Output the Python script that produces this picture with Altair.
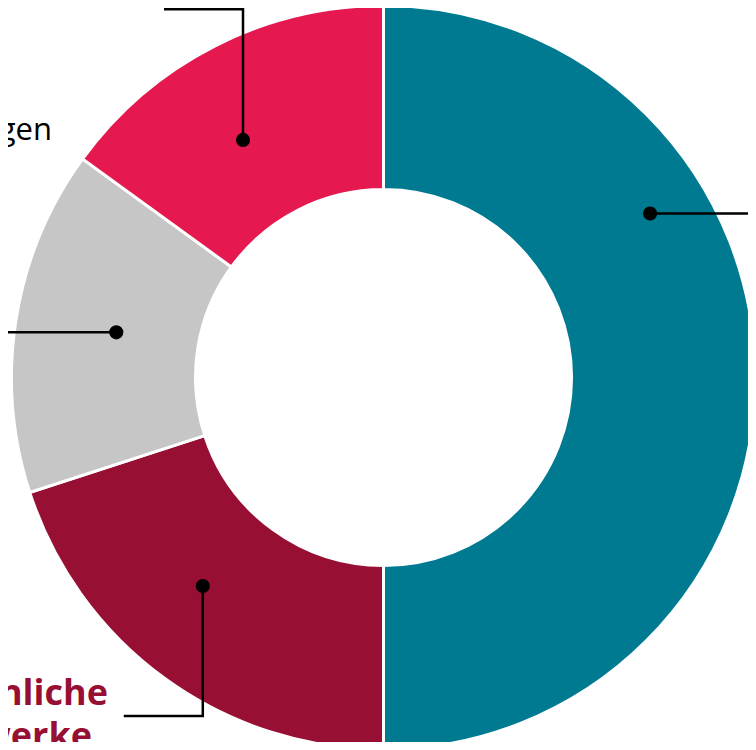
import math
import altair as alt
import pandas as pd

# ---- data ----
categories = ["Eigenmittel", "Persönliche Netzwerke", "Stiftungen", "Öffentliche Zuwendungen"]
values = [50, 20, 15, 15]
colors = ["#007A91", "#971034", "#C6C6C6", "#E5194F"]
label_lines = [[], ["Persönliche", "Netzwerke"], [], ["Zuwendungen"]]
label_colors = ["#000000", "#971034", "#000000", "#000000"]
label_weights = ["normal", "bold", "normal", "normal"]

# ---- layout ----
W, H = 740, 734
CX, CY = 375.5, 369.5
R_OUT, R_IN = 372, 188

total = sum(values)
df = pd.DataFrame({"cat": categories, "value": values, "order": range(len(values))})

arcs = alt.Chart(df).mark_arc(
    outerRadius=R_OUT, innerRadius=R_IN, stroke="white", strokeWidth=3
).encode(
    theta=alt.Theta("value:Q", stack=True),
    order=alt.Order("order:Q"),
    color=alt.Color("cat:N", scale=alt.Scale(domain=categories, range=colors), legend=None),
    x=alt.value(CX),
    y=alt.value(CY),
)

# dot anchors: mid-angle of each slice, with small layout adjustments
angle_shift = [-31.6, 4.9, 0.6, -3.6]
radius = [313, 276, 271, 276]
dots, lines = [], []
cum = 0
for i, v in enumerate(values):
    mid = (cum + v / 2) / total * 360 + angle_shift[i]
    cum += v
    a = math.radians(mid)
    px = CX + radius[i] * math.sin(a)
    py = CY - radius[i] * math.cos(a)
    dots.append({"cat": categories[i], "x": px, "y": py})
    if i == 0:
        pts = [(px, py), (W + 20, py)]
    elif i == 1:
        pts = [(px, py), (px, py + 130), (px - 79, py + 130)]
    elif i == 2:
        pts = [(px, py), (-20, py)]
    else:
        pts = [(px, py), (px, 1.3), (px - 79, 1.3)]
    for k, (lx, ly) in enumerate(pts):
        lines.append({"cat": categories[i], "k": k, "x": lx, "y": ly})

dots_df = pd.DataFrame(dots)
lines_df = pd.DataFrame(lines)

xs = alt.Scale(domain=[0, W], range=[0, W])
ys = alt.Scale(domain=[0, H], range=[0, H])

leader = alt.Chart(lines_df).mark_line(color="black", strokeWidth=2.5).encode(
    x=alt.X("x:Q", scale=xs, axis=None),
    y=alt.Y("y:Q", scale=ys, axis=None),
    detail="cat:N",
    order="k:Q",
)

points = alt.Chart(dots_df).mark_circle(color="black", opacity=1, size=200).encode(
    x=alt.X("x:Q", scale=xs, axis=None),
    y=alt.Y("y:Q", scale=ys, axis=None),
)

# text labels (partly outside the visible area, as in the reference)
label_pos = {1: [(100, 697), (84, 740)], 3: [(44, 132)]}
texts = []
for i, ls in enumerate(label_lines):
    for j, t in enumerate(ls):
        tx, ty = label_pos[i][j]
        texts.append({"text": t, "x": tx, "y": ty, "color": label_colors[i], "w": label_weights[i]})
tdf = pd.DataFrame(texts)

def text_layer(weight):
    return alt.Chart(tdf[tdf["w"] == weight]).mark_text(
        align="right", baseline="alphabetic", font="Open Sans",
        fontSize=36 if weight == "bold" else 31, fontWeight=weight,
    ).encode(
        x=alt.X("x:Q", scale=xs, axis=None),
        y=alt.Y("y:Q", scale=ys, axis=None),
        text="text:N",
        color=alt.Color("color:N", scale=None),
    )

chart = alt.layer(arcs, leader, points, text_layer("normal"), text_layer("bold")).properties(
    width=W, height=H, autosize=alt.AutoSizeParams(type="none"), padding=0
).configure_view(stroke=None)

chart.save("out.html", embed_options={"renderer": "svg", "actions": False})
